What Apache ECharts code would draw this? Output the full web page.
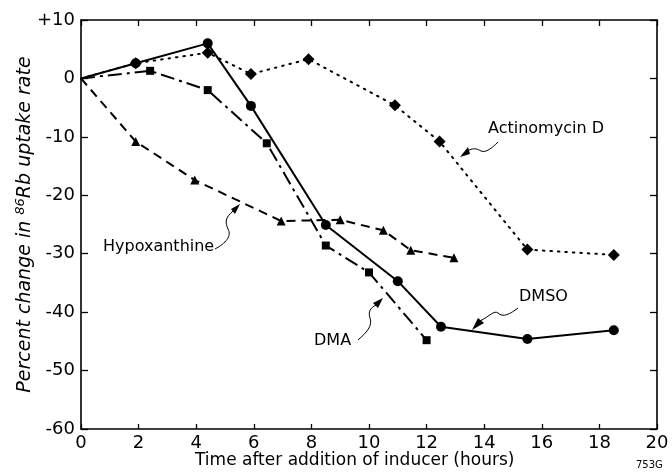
<!DOCTYPE html>
<html>
<head>
<meta charset="utf-8">
<script src="https://cdn.jsdelivr.net/npm/echarts@6/dist/echarts.min.js"></script>
<style>
html,body{margin:0;padding:0;background:#fff;}
#c{width:672px;height:476px;}
</style>
</head>
<body>
<div id="c"></div>
<script>
// ---- data ----
const dmsoX = [0, 1.9, 4.4, 5.9, 8.5, 11.0, 12.5, 15.5, 18.5];
const dmsoY = [0, 2.6, 6.0, -4.7, -25.1, -34.7, -42.5, -44.6, -43.1];
const dmaX = [0, 2.4, 4.4, 6.45, 8.5, 10.0, 12.0];
const dmaY = [0, 1.3, -2.0, -11.1, -28.6, -33.2, -44.8];
const hypoX = [0, 1.9, 3.95, 6.95, 9.0, 10.5, 11.45, 12.95];
const hypoY = [0, -10.8, -17.4, -24.4, -24.2, -26.0, -29.4, -30.7];
const actX = [0, 1.9, 4.4, 5.9, 7.9, 10.9, 12.45, 15.5, 18.5];
const actY = [0, 2.6, 4.4, 0.75, 3.3, -4.6, -10.8, -29.3, -30.2];
const xTicks = [0, 2, 4, 6, 8, 10, 12, 14, 16, 18, 20];
const yTicks = [10, 0, -10, -20, -30, -40, -50, -60];
const seriesNames = ['Actinomycin D', 'Hypoxanthine', 'DMA', 'DMSO'];

const FONT = 'DejaVu Sans';
function pts(xs, ys) {
  return xs.map((x, i) => i === 0 ? {value: [x, ys[i]], symbol: 'none'} : [x, ys[i]]);
}
function bez(x1, y1, c1x, c1y, c2x, c2y, x2, y2) {
  return {type: 'bezierCurve', shape: {x1: x1, y1: y1, cpx1: c1x, cpy1: c1y, cpx2: c2x, cpy2: c2y, x2: x2, y2: y2},
    style: {fill: null, stroke: '#000', lineWidth: 1}, z: 10};
}
function tri(p) {
  return {type: 'polygon', shape: {points: p}, style: {fill: '#000'}, z: 10};
}
function txt(x, y, s, size) {
  return {type: 'text', x: x, y: y, style: {text: s, fontSize: size || 16, fontFamily: FONT, fill: '#000'}, z: 10};
}
const chart = echarts.init(document.getElementById('c'), null, {renderer: 'canvas'});
const axisLine = {show: true, onZero: false, lineStyle: {color: '#000', width: 1.6}};
const option = {
  animation: false,
  backgroundColor: '#fff',
  grid: {left: 81, right: 15, top: 20, bottom: 47},
  xAxis: [{
    type: 'value', min: xTicks[0], max: xTicks[xTicks.length - 1], interval: 2,
    axisLine: axisLine,
    axisTick: {show: true, inside: true, length: 5, lineStyle: {color: '#000', width: 1.3}},
    axisLabel: {color: '#000', fontSize: 18, fontFamily: FONT, margin: 5},
    splitLine: {show: false}
  }, {
    type: 'value', position: 'top', min: xTicks[0], max: xTicks[xTicks.length - 1], interval: 2,
    axisLine: axisLine,
    axisTick: {show: true, inside: true, length: 6, lineStyle: {color: '#000', width: 1.3}},
    axisLabel: {show: false}, splitLine: {show: false}
  }],
  yAxis: [{
    type: 'value', min: yTicks[yTicks.length - 1], max: yTicks[0], interval: 10,
    axisLine: axisLine,
    axisTick: {show: true, inside: true, length: 7, lineStyle: {color: '#000', width: 1.3}},
    axisLabel: {color: '#000', fontSize: 18, fontFamily: FONT, margin: 6,
      formatter: v => v > 0 ? '+' + v : String(v)},
    splitLine: {show: false},
    name: 'Percent change in {sup|86}Rb uptake rate',
    nameLocation: 'middle', nameGap: 44, nameMoveOverlap: false,
    nameTextStyle: {color: '#000', fontSize: 19, fontStyle: 'italic', fontFamily: FONT,
      rich: {sup: {fontSize: 13, fontStyle: 'italic', fontFamily: FONT, color: '#000', verticalAlign: 'top', padding: [0, 0, 10, 0]}}}
  }, {
    type: 'value', position: 'right', min: yTicks[yTicks.length - 1], max: yTicks[0], interval: 10,
    axisLine: axisLine,
    axisTick: {show: true, inside: true, length: 7, lineStyle: {color: '#000', width: 1.3}},
    axisLabel: {show: false}, splitLine: {show: false}
  }],
  series: [{
    name: seriesNames[0], type: 'line', data: pts(actX, actY),
    symbol: 'diamond', symbolSize: 12,
    itemStyle: {color: '#000'},
    lineStyle: {color: '#000', width: 2, type: [1.5, 6], cap: 'round'}, z: 2
  }, {
    name: seriesNames[1], type: 'line', data: pts(hypoX, hypoY),
    symbol: 'triangle', symbolSize: 9,
    itemStyle: {color: '#000'},
    lineStyle: {color: '#000', width: 2, type: [9, 6]}, z: 3
  }, {
    name: seriesNames[2], type: 'line', data: pts(dmaX, dmaY),
    symbol: 'rect', symbolSize: 8,
    itemStyle: {color: '#000'},
    lineStyle: {color: '#000', width: 2, type: [14, 5, 3, 5]}, z: 4
  }, {
    name: seriesNames[3], type: 'line', data: pts(dmsoX, dmsoY),
    symbol: 'circle', symbolSize: 10,
    itemStyle: {color: '#000'},
    lineStyle: {color: '#000', width: 2}, z: 5
  }],
  graphic: [
    txt(195, 452, 'Time after addition of inducer (hours)', 17),
    txt(636, 460, '753G', 10),
    txt(488, 121, seriesNames[0]),
    txt(103, 239, seriesNames[1], 16),
    txt(314, 333, seriesNames[2]),
    txt(519, 289, seriesNames[3]),
    // wavy leader arrows
    bez(215, 249, 226, 243, 232, 236, 228, 229),
    bez(228, 229, 225, 222, 225, 218, 233, 211),
    tri([[240, 204], [231, 209], [235, 214]]),
    bez(358, 340, 366, 333, 373, 326, 370, 318),
    bez(370, 318, 368, 312, 370, 308, 376, 305),
    tri([[383, 298], [373, 303], [378, 308]]),
    bez(498, 142, 492, 148, 486, 153, 481, 151),
    bez(481, 151, 476, 148, 473, 148, 467, 151),
    tri([[460, 157], [468, 147], [470, 154]]),
    bez(518, 308, 510, 314, 503, 318, 498, 313),
    bez(498, 313, 494, 310, 490, 316, 480, 321),
    tri([[472, 330], [478, 318], [484, 323]])
  ]
};
chart.setOption(option);
</script>
</body>
</html>
